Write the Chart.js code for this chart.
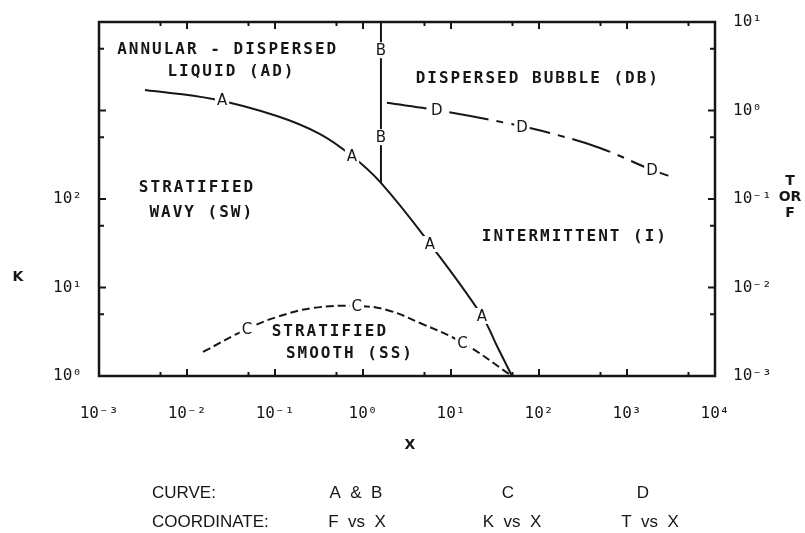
<!DOCTYPE html>
<html>
<head>
<meta charset="utf-8">
<title>Flow regime map</title>
<script src="https://cdn.jsdelivr.net/npm/chart.js@4.4.0/dist/chart.umd.min.js"></script>
<style>
    body { margin: 0; background: #fff; }
    #wrap { width: 805px; height: 533px; position: relative; }
</style>
</head>
<body>
<div id="wrap"><canvas id="regimeChart"></canvas></div>
<script>
// Curve A: F vs X (right axis)
const curveA_X = [0.00333, 0.0197, 0.105, 0.325, 0.75, 1.6, 5.77, 22.5, 33.3, 49.3];
const curveA_F = [1.70, 1.35, 0.867, 0.542, 0.306, 0.152, 0.031, 0.00477, 0.00218, 0.001];

// Curve B: vertical line at X = 1.6, F vs X
const curveB_X = [1.6, 1.6];
const curveB_F = [0.152, 10];

// Curve C: K vs X (left axis)
const curveC_X = [0.0152, 0.048, 0.105, 0.27, 0.877, 1.87, 4.45, 13.7, 49.3];
const curveC_K = [1.87, 3.4, 4.64, 5.87, 6.18, 5.57, 3.97, 2.36, 1.0];

// Curve D: T vs X (right axis)
const curveD_X = [1.87, 6.93, 42.2, 133, 493, 1923, 3508];
const curveD_T = [1.22, 1.01, 0.723, 0.557, 0.377, 0.213, 0.173];

// tick labels (decades)
const xTicks = [1e-3, 1e-2, 1e-1, 1, 10, 100, 1000, 10000];
const kTicks = [1, 10, 100];
const tfTicks = [1e-3, 1e-2, 1e-1, 1, 10];

// letters sitting on the curves
const letterText = ['A', 'A', 'A', 'A', 'B', 'B', 'D', 'D', 'D'];
const letterX = [0.025, 0.75, 5.77, 22.5, 1.6, 1.6, 6.9, 64, 1920];
const letterY = [1.31, 0.306, 0.031, 0.00477, 4.8, 0.50, 1.0, 0.65, 0.21];
const letterCText = ['C', 'C', 'C'];
const letterCX = [0.048, 0.85, 13.5];
const letterCK = [3.4, 6.2, 2.36];

// regime names (positioned on X / T-or-F scale)
const regionText = ['ANNULAR - DISPERSED', 'LIQUID (AD)', 'DISPERSED BUBBLE (DB)', 'STRATIFIED',
    'WAVY (SW)', 'INTERMITTENT (I)', 'STRATIFIED', 'SMOOTH (SS)'];
const regionX = [0.029, 0.032, 97, 0.013, 0.0147, 256, 0.42, 0.71];
const regionY = [4.8, 2.7, 2.3, 0.133, 0.0695, 0.037, 0.00314, 0.00177];

const INK = '#161616';
const SUP = { '-': '\u207B', '0': '\u2070', '1': '\u00B9', '2': '\u00B2', '3': '\u00B3', '4': '\u2074' };

function pow10Label(value) {
    const e = String(Math.round(Math.log10(value)));
    return '10' + e.split('').map(c => SUP[c]).join('');
}

function toPoints(xs, ys) {
    return xs.map((x, i) => ({ x: x, y: ys[i] }));
}

// inward tick values: decades and 5x in between
function tickValues(min, max) {
    const out = [];
    for (let e = Math.round(Math.log10(min)); e <= Math.round(Math.log10(max)); e++) {
        out.push({ v: Math.pow(10, e), major: true });
        if (5 * Math.pow(10, e) < max) out.push({ v: 5 * Math.pow(10, e), major: false });
    }
    return out;
}

// fixed axis sizes so the plot box lands in the same place every time
function fitTo(size) {
    return s => {
        if (s.isHorizontal()) s.height = size; else s.width = size;
        s.paddingTop = 0;
        s.paddingBottom = 0;
        s.paddingLeft = 0;
        s.paddingRight = 0;
    };
}

const tickFont = { family: 'DejaVu Sans Mono', size: 16 };

const framePlugin = {
    id: 'frame',
    afterDatasetsDraw(chart) {
        const ctx = chart.ctx;
        const a = chart.chartArea;
        const xs = chart.scales.x, ks = chart.scales.yK, ts = chart.scales.yTF;
        ctx.save();

        // curve letters with a white gap behind them
        ctx.font = '15px DejaVu Sans';
        ctx.textAlign = 'center';
        ctx.textBaseline = 'middle';
        function letter(t, px, py) {
            const w = ctx.measureText(t).width + 4;
            ctx.fillStyle = '#fff';
            ctx.fillRect(px - w / 2, py - 8, w, 16);
            ctx.fillStyle = INK;
            ctx.fillText(t, px, py + 1);
        }
        letterText.forEach((t, i) => letter(t, xs.getPixelForValue(letterX[i]), ts.getPixelForValue(letterY[i])));
        letterCText.forEach((t, i) => letter(t, xs.getPixelForValue(letterCX[i]), ks.getPixelForValue(letterCK[i])));

        // box around the plot
        ctx.strokeStyle = INK;
        ctx.lineWidth = 2.5;
        ctx.strokeRect(a.left, a.top, a.right - a.left, a.bottom - a.top);

        // inward ticks
        ctx.lineWidth = 2;
        ctx.beginPath();
        tickValues(1e-3, 1e4).forEach(t => {
            const px = xs.getPixelForValue(t.v);
            const len = t.major ? 7 : 4;
            ctx.moveTo(px, a.bottom); ctx.lineTo(px, a.bottom - len);
            ctx.moveTo(px, a.top); ctx.lineTo(px, a.top + len);
        });
        tickValues(1, 1e4).forEach(t => {
            const py = ks.getPixelForValue(t.v);
            ctx.moveTo(a.left, py); ctx.lineTo(a.left + (t.major ? 7 : 5), py);
        });
        tickValues(1e-3, 10).forEach(t => {
            const py = ts.getPixelForValue(t.v);
            ctx.moveTo(a.right, py); ctx.lineTo(a.right - (t.major ? 7 : 5), py);
        });
        ctx.stroke();
        ctx.restore();
    },
    afterDraw(chart) {
        const ctx = chart.ctx;
        const xs = chart.scales.x, ts = chart.scales.yTF;
        ctx.save();
        ctx.fillStyle = INK;
        ctx.textAlign = 'center';
        ctx.textBaseline = 'middle';

        // regime names
        ctx.font = 'bold 16px DejaVu Sans Mono';
        ctx.letterSpacing = '2px';
        regionText.forEach((t, i) => {
            ctx.fillText(t, xs.getPixelForValue(regionX[i]), ts.getPixelForValue(regionY[i]));
        });
        ctx.letterSpacing = '0px';

        // axis titles
        ctx.font = 'bold 14px DejaVu Sans';
        ctx.fillText('K', 18, 277);
        ctx.fillText('X', 410, 445);
        ctx.fillText('T', 790, 181);
        ctx.fillText('OR', 790, 197);
        ctx.fillText('F', 790, 213);

        // curve / coordinate key underneath
        ctx.font = '17px Liberation Sans';
        ctx.textAlign = 'left';
        ctx.fillText('CURVE:', 152, 493);
        ctx.fillText('COORDINATE:', 152, 522);
        ctx.textAlign = 'center';
        ctx.fillText('A  &  B', 356, 493);
        ctx.fillText('F  vs  X', 357, 522);
        ctx.fillText('C', 508, 493);
        ctx.fillText('K  vs  X', 512, 522);
        ctx.fillText('D', 643, 493);
        ctx.fillText('T  vs  X', 650, 522);
        ctx.restore();
    }
};

const ctx = document.getElementById('regimeChart').getContext('2d');
new Chart(ctx, {
    type: 'line',
    data: {
        datasets: [
            {
                label: 'A',
                data: toPoints(curveA_X, curveA_F),
                yAxisID: 'yTF',
                borderColor: INK,
                borderWidth: 2,
                pointRadius: 0,
                tension: 0.4
            },
            {
                label: 'B',
                data: toPoints(curveB_X, curveB_F),
                yAxisID: 'yTF',
                borderColor: INK,
                borderWidth: 2,
                pointRadius: 0,
                tension: 0
            },
            {
                label: 'C',
                data: toPoints(curveC_X, curveC_K),
                yAxisID: 'yK',
                borderColor: INK,
                borderWidth: 2,
                borderDash: [8, 4],
                pointRadius: 0,
                tension: 0.4
            },
            {
                label: 'D',
                data: toPoints(curveD_X, curveD_T),
                yAxisID: 'yTF',
                borderColor: INK,
                borderWidth: 2,
                borderDash: [40, 8, 7, 8],
                pointRadius: 0,
                tension: 0.4
            }
        ]
    },
    options: {
        responsive: true,
        maintainAspectRatio: false,
        animation: false,
        layout: { padding: { top: 22, left: 0, right: 0, bottom: 0 } },
        plugins: {
            legend: { display: false },
            tooltip: { enabled: false }
        },
        scales: {
            x: {
                type: 'logarithmic',
                position: 'bottom',
                min: 1e-3,
                max: 1e4,
                grid: { display: false, drawTicks: false },
                border: { display: false },
                ticks: {
                    color: INK,
                    font: tickFont,
                    padding: 28,
                    autoSkip: false,
                    maxRotation: 0,
                    callback: pow10Label
                },
                afterBuildTicks: s => { s.ticks = xTicks.map(v => ({ value: v })); },
                afterFit: fitTo(157)
            },
            yK: {
                type: 'logarithmic',
                position: 'left',
                min: 1,
                max: 1e4,
                grid: { display: false, drawTicks: false },
                border: { display: false },
                ticks: {
                    color: INK,
                    font: tickFont,
                    padding: 17,
                    autoSkip: false,
                    callback: pow10Label
                },
                afterBuildTicks: s => { s.ticks = kTicks.map(v => ({ value: v })); },
                afterFit: fitTo(99)
            },
            yTF: {
                type: 'logarithmic',
                position: 'right',
                min: 1e-3,
                max: 10,
                grid: { display: false, drawTicks: false },
                border: { display: false },
                ticks: {
                    color: INK,
                    font: tickFont,
                    padding: 18,
                    autoSkip: false,
                    callback: pow10Label
                },
                afterBuildTicks: s => { s.ticks = tfTicks.map(v => ({ value: v })); },
                afterFit: fitTo(90)
            }
        }
    },
    plugins: [framePlugin]
});
</script>
</body>
</html>
